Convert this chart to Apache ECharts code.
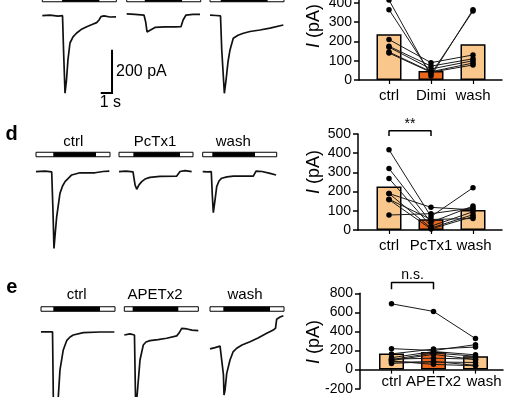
<!DOCTYPE html>
<html><head><meta charset="utf-8">
<script src="https://cdn.jsdelivr.net/npm/echarts@6/dist/echarts.min.js"></script>
<style>html,body{margin:0;padding:0;background:#fff}#c{width:530px;height:397px}</style>
</head><body><div id="c"></div>
<script>
// ---------- data ----------
const cats_c = ['ctrl', 'Dimi', 'wash'];
const cats_d = ['ctrl', 'PcTx1', 'wash'];
const cats_e = ['ctrl', 'APETx2', 'wash'];

const means_c = [237, 47, 185];
const means_d = [226, 56, 104];
const means_e = [168, 185, 140];

// paired cells: [ctrl, drug, wash]
const pairs_c = [[415,21,365],[365,31,358],[210,90,130],[175,72,110],[170,57,100],[145,43,88],[140,40,78]];
const pairs_d = [[418,70,220],[320,40,125],[268,20,95],[190,10,80],[158,5,70],[78,85,115],[190,118,105],[160,55,60]];
const pairs_e = [[690,610,325],[220,200,262],[165,215,237],[125,190,155],[105,175,140],[95,160,105],[80,80,75],[65,85,45],[110,120,110],[90,55,40]];

// y axis ranges [min, max, interval]
const yRange_c = [0, 415, 100];
const yRange_d = [0, 500, 100];
const yRange_e = [-200, 800, 200];

const sig_d = {text: '**', lo: 490, hi: 517};
const sig_e = {text: 'n.s.', lo: 842, hi: 912};

// current traces: [time (s), current (pA)]
const tr_c_ctrl = [[0,0],[0.68,3],[1.39,-2],[1.79,0],[1.88,-158],[2.01,-358],[2.14,-297],[2.27,-204],[2.45,-126],[2.72,-98],[3.04,-80],[3.43,-64],[3.93,-51],[4.40,-41],[4.81,-32],[5.02,-20],[5.19,-4],[5.46,-1],[5.99,-6],[6.52,-5]];
const tr_c_dimi = [[0,8],[0.73,6],[1.53,3],[1.68,-29],[1.80,-75],[1.97,-66],[2.50,-54],[3.39,-52],[4.27,-52],[4.81,-50],[4.99,-20],[5.25,3],[5.87,6],[6.49,6]];
const tr_c_wash = [[0,3],[0.53,1],[0.93,-1],[1.04,-158],[1.27,-358],[1.42,-297],[1.59,-214],[1.77,-158],[2.06,-104],[2.48,-90],[2.95,-81],[3.54,-73],[4.42,-66],[5.31,-57],[6.49,-43]];
const tr_d_ctrl = [[0,0],[0.80,3],[1.39,-1],[1.50,-177],[1.59,-354],[1.71,-279],[1.83,-208],[2.12,-100],[2.35,-66],[2.57,-46],[3.16,-15],[3.89,-5],[5.22,-5],[5.37,3],[5.93,1],[6.49,3]];
const tr_d_pctx = [[0,0],[0.62,3],[1.24,-1],[1.42,-61],[1.57,-81],[1.77,-61],[2.01,-46],[2.30,-34],[2.74,-26],[3.63,-22],[5.11,-20],[5.40,1],[5.84,5],[6.43,0]];
const tr_d_wash = [[0,0],[0.47,-1],[0.76,0],[0.85,-108],[0.94,-189],[1.09,-131],[1.24,-69],[1.44,-43],[1.68,-30],[2.15,-24],[2.71,-20],[4.48,-20],[4.72,3],[5.25,1],[5.96,-8],[6.49,-15]];
const tr_e_ctrl = [[0,1],[1.02,1],[1.09,-300],[1.24,-550],[1.53,-300],[1.68,-175],[1.97,-83],[2.27,-40],[2.57,-23],[2.86,-14],[3.74,-3],[5.22,0],[6.49,0]];
const tr_e_apet = [[0,-14],[0.50,-9],[0.90,-14],[0.99,-300],[1.04,-550],[1.12,-300],[1.39,-129],[1.68,-60],[1.92,-46],[2.27,-40],[2.98,-35],[3.75,-29],[4.64,-18],[4.84,-5],[5.08,17],[5.55,14],[5.99,9],[6.55,6]];
const tr_e_wash = [[0,-78],[0.44,-72],[0.89,-65],[1.06,-65],[1.19,-198],[1.24,-291],[1.33,-268],[1.48,-191],[1.77,-129],[2.04,-92],[2.36,-75],[2.83,-60],[3.54,-45],[4.25,-28],[5.02,-6],[5.60,9],[5.80,18],[5.90,59],[6.20,69],[6.49,75]];

// agonist application windows [on, off] (s)
const app_c = [[1.75,5.05],[1.6,4.9],[0.95,5.1]];
const app_d = [[1.53,5.31],[1.27,5.40],[0.85,4.63]];
const app_e = [[1.09,5.22],[0.74,4.78],[1.18,5.31]];

// ---------- layout / style ----------
const FONT = '"Liberation Sans", Arial, Helvetica, sans-serif';
const PEACH = '#F9C68C', ORANGE = '#EB671E';
const PX_PER_S = 11.3, PX_PER_PA = 0.2167;
const T_MAX = 6.6, PA_MIN = -600, PA_MAX = 70;

const panels = [
  {cats: cats_c, means: means_c, pairs: pairs_c, yr: yRange_c, frame: {left: 359, top: 0, width: 143, height: 80}, dataLeft: 368, labelMargin: 8, showMax: false, titleY: 26, sig: null, washPad: 0},
  {cats: cats_d, means: means_d, pairs: pairs_d, yr: yRange_d, frame: {left: 358, top: 134, width: 144, height: 96}, dataLeft: 368, labelMargin: 8, showMax: true, titleY: 172, sig: sig_d, washPad: 2},
  {cats: cats_e, means: means_e, pairs: pairs_e, yr: yRange_e, frame: {left: 360, top: 293.3, width: 143, height: 95.4}, dataLeft: 370.5, labelMargin: 5, showMax: true, titleY: 342, sig: sig_e, washPad: 17}
];

const rows = [
  {y0: 15.7, x0s: [42.3, 126.7, 210], barY: -0.5, traces: [tr_c_ctrl, tr_c_dimi, tr_c_wash], apps: app_c, cats: cats_c, labelY: null},
  {y0: 171.7, x0s: [36, 119, 202.7], barY: 154.5, traces: [tr_d_ctrl, tr_d_pctx, tr_d_wash], apps: app_d, cats: cats_d, labelY: 141.7, labelXs: [73.3, 155, 233.3], letter: 'd', letterY: 134},
  {y0: 332, x0s: [41, 124.3, 210], barY: 309, traces: [tr_e_ctrl, tr_e_apet, tr_e_wash], apps: app_e, cats: cats_e, labelY: 295, labelXs: [76.7, 155, 245], letter: 'e', letterY: 287}
];

const grid = [], xAxis = [], yAxis = [], series = [];
const black = {color: '#000', width: 1.5};
const mkGrid = r => Object.assign({outerBoundsMode: 'none', containLabel: false}, r);

panels.forEach(p => {
  // frame grid (axis lines + y ticks)
  const gB = grid.length;
  grid.push(mkGrid(p.frame));
  xAxis.push({gridIndex: gB, type: 'value', min: 0, max: 1, axisLine: {show: true, onZero: true, lineStyle: black}, axisTick: {show: false}, axisLabel: {show: false}, splitLine: {show: false}});
  yAxis.push({gridIndex: gB, type: 'value', min: p.yr[0], max: p.yr[1], interval: p.yr[2],
    axisLine: {show: true, onZero: false, lineStyle: black},
    axisTick: {show: true, length: 5, lineStyle: black},
    axisLabel: {fontSize: 14, color: '#000', fontFamily: FONT, margin: 7, showMaxLabel: p.showMax},
    splitLine: {show: false}});
  // data grid; category axis sits at value 0 of the y range
  const gA = grid.length;
  grid.push(mkGrid({left: p.dataLeft, top: p.frame.top, width: 126, height: p.frame.height}));
  const zeroOffset = -p.frame.height * (0 - p.yr[0]) / (p.yr[1] - p.yr[0]);
  xAxis.push({gridIndex: gA, type: 'category', offset: zeroOffset,
    data: p.cats.map((c, j) => j === 2 ? {value: c, textStyle: {padding: [0, 0, 0, p.washPad]}} : c),
    axisLine: {show: false, onZero: false},
    axisTick: {show: true, alignWithLabel: true, length: 4, lineStyle: {color: '#000', width: 1.2}},
    axisLabel: {fontSize: 15, color: '#000', fontFamily: FONT, margin: p.labelMargin, interval: 0},
    splitLine: {show: false}});
  yAxis.push({gridIndex: gA, type: 'value', min: p.yr[0], max: p.yr[1], show: false, splitLine: {show: false}});
  p.gA = gA;
  series.push({type: 'bar', xAxisIndex: gA, yAxisIndex: gA, barWidth: 25, z: 2,
    data: p.means.map((v, j) => ({value: v, itemStyle: {color: j === 1 ? ORANGE : PEACH}})),
    itemStyle: {borderColor: '#000', borderWidth: 1.5}});
  p.pairs.forEach(pr => series.push({type: 'line', xAxisIndex: gA, yAxisIndex: gA, data: pr, z: 3, clip: false,
    symbol: 'circle', symbolSize: 5.5, itemStyle: {color: '#000'}, lineStyle: {color: '#1a1a1a', width: 1}}));
  if (p.sig) {
    series.push({type: 'line', xAxisIndex: gA, yAxisIndex: gA, clip: false, symbol: 'none', z: 3,
      lineStyle: {color: '#000', width: 1.5},
      data: [[0, p.sig.lo], [0, p.sig.hi], [1, p.sig.hi], [1, p.sig.lo]]});
  }
});

rows.forEach(r => {
  r.grids = [];
  r.traces.forEach((tr, k) => {
    const g = grid.length;
    r.grids.push(g);
    grid.push(mkGrid({left: r.x0s[k], top: r.y0 - PA_MAX * PX_PER_PA, width: T_MAX * PX_PER_S, height: (PA_MAX - PA_MIN) * PX_PER_PA}));
    xAxis.push({gridIndex: g, type: 'value', min: 0, max: T_MAX, show: false, splitLine: {show: false}});
    yAxis.push({gridIndex: g, type: 'value', min: PA_MIN, max: PA_MAX, show: false, splitLine: {show: false}});
    series.push({type: 'line', xAxisIndex: g, yAxisIndex: g, data: tr, symbol: 'none', showSymbol: false, clip: false,
      lineStyle: {color: '#111', width: 1.7}});
  });
});

const chart = echarts.init(document.getElementById('c'), null, {renderer: 'canvas', width: 530, height: 397});
chart.setOption({animation: false, backgroundColor: '#fff', grid, xAxis, yAxis, series});

// ---------- annotations ----------
const gr = [];
const txt = (x, y, text, extra) => gr.push(Object.assign({type: 'text', x, y, silent: true,
  style: Object.assign({text, fontSize: 15, fontFamily: FONT, fill: '#000', align: 'center', verticalAlign: 'middle'}, extra || {})}));

panels.forEach(p => {
  gr.push({type: 'text', x: 314, y: p.titleY, rotation: Math.PI / 2, silent: true,
    style: {text: '{i|I} (pA)', fontSize: 18, fontFamily: FONT, fill: '#000', align: 'center', verticalAlign: 'middle',
      rich: {i: {fontStyle: 'italic', fontSize: 18, fontFamily: FONT, fill: '#000'}}}});
  if (p.sig) {
    const a = chart.convertToPixel({gridIndex: p.gA}, [0, p.sig.hi]);
    const b = chart.convertToPixel({gridIndex: p.gA}, [1, p.sig.hi]);
    txt((a[0] + b[0]) / 2, a[1] - 7, p.sig.text, {fontSize: 14});
  }
});

rows.forEach(r => {
  r.grids.forEach((g, k) => {
    const o0 = chart.convertToPixel({gridIndex: g}, [0, 0]);
    const o1 = chart.convertToPixel({gridIndex: g}, [6.55, 0]);
    const a0 = chart.convertToPixel({gridIndex: g}, [r.apps[k][0], 0]);
    const a1 = chart.convertToPixel({gridIndex: g}, [r.apps[k][1], 0]);
    const h = 4.5;
    gr.push({type: 'rect', silent: true, shape: {x: o0[0], y: r.barY - h / 2, width: o1[0] - o0[0], height: h}, style: {fill: '#fff', stroke: '#000', lineWidth: 1}});
    gr.push({type: 'rect', silent: true, shape: {x: a0[0], y: r.barY - h / 2, width: a1[0] - a0[0], height: h}, style: {fill: '#000'}});
    if (r.labelY != null) txt(r.labelXs[k], r.labelY, r.cats[k]);
  });
  if (r.letter) txt(11.7, r.letterY, r.letter, {fontSize: 20, fontWeight: 'bold'});
});

// scale bar (1 s, 200 pA) in the first trace's coordinates
const sg = rows[0].grids[0];
const pC = chart.convertToPixel({gridIndex: sg}, [6.17, -357]);
const pL = chart.convertToPixel({gridIndex: sg}, [5.17, -357]);
const pT = chart.convertToPixel({gridIndex: sg}, [6.17, -157]);
gr.push({type: 'polyline', silent: true, shape: {points: [pL, pC, pT]}, style: {stroke: '#000', lineWidth: 2, fill: null}});
txt(pC[0] + 4, (pC[1] + pT[1]) / 2, '200 pA', {fontSize: 16, align: 'left'});
txt(pL[0] - 1, pC[1] + 10, '1 s', {fontSize: 16, align: 'left'});

chart.setOption({graphic: gr});
</script></body></html>
